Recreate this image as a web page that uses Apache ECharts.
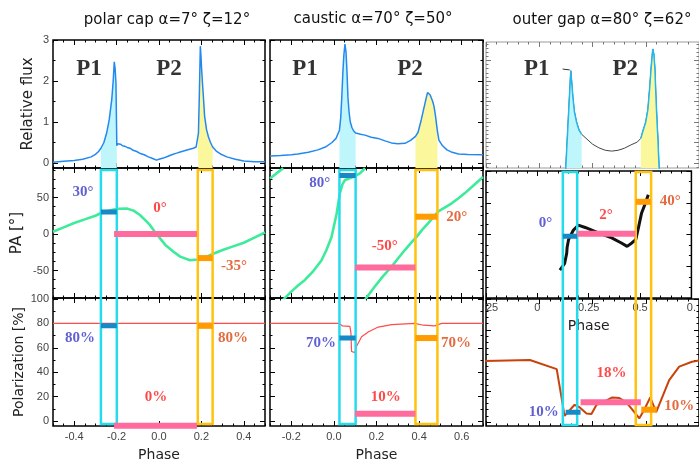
<!DOCTYPE html>
<html>
<head>
<meta charset="utf-8">
<script src="https://cdn.jsdelivr.net/npm/echarts@6.0.0/dist/echarts.min.js"></script>
<style>
html,body{margin:0;padding:0;background:#fff;}
#chart{width:699px;height:463px;}
</style>
</head>
<body>
<div id="chart"></div>
<script>
// ================= DATA =================
const panelTitles = ['polar cap α=7° ζ=12°', 'caustic α=70° ζ=50°', 'outer gap α=80° ζ=62°'];
const peakNames = ['P1', 'P2'];
const axisTitles = {flux: 'Relative flux', pa: 'PA [°]', pol: 'Polarization [%]', phase: 'Phase'};

// tick labels
const p1XTicks = [-0.4, -0.2, 0, 0.2, 0.4];
const p2XTicks = [-0.2, 0, 0.2, 0.4, 0.6];
const p3XTicks = [-0.25, 0, 0.25, 0.5, 0.75];
const p3XTickText = ['    25', '0', '0.25', '0.5', '0.'];
const fluxTicks = [0, 1, 2, 3];
const paTicks = [-50, 0, 50];
const polTicks = [0, 20, 40, 60, 80, 100];

// ---- polar cap ----
const p1Flux = [[-0.5,0.02],[-0.45,0.04],[-0.4,0.06],[-0.36,0.09],[-0.32,0.15],[-0.3,0.21],[-0.285,0.28],[-0.274,0.36],[-0.26,0.5],[-0.247,0.73],[-0.235,1.05],[-0.223,1.54],[-0.216,2.0],[-0.211,2.47],[-0.207,2.3],[-0.203,1.94],[-0.199,0.42],[-0.195,0.47],[-0.19,0.44],[-0.182,0.46],[-0.172,0.42],[-0.162,0.41],[-0.15,0.38],[-0.137,0.36],[-0.122,0.31],[-0.105,0.28],[-0.088,0.23],[-0.07,0.2],[-0.05,0.15],[-0.03,0.11],[-0.012,0.07],[0.0,0.09],[0.02,0.12],[0.04,0.16],[0.06,0.2],[0.083,0.24],[0.1,0.27],[0.12,0.3],[0.14,0.33],[0.162,0.36],[0.175,0.39],[0.183,0.42],[0.186,0.72],[0.19,1.6],[0.195,2.85],[0.198,2.6],[0.201,2.3],[0.205,1.95],[0.209,1.65],[0.215,1.15],[0.224,0.82],[0.233,0.64],[0.243,0.5],[0.253,0.39],[0.27,0.29],[0.29,0.22],[0.32,0.15],[0.36,0.09],[0.4,0.05],[0.45,0.03],[0.5,0.03]];
const p1Pa = [[-0.5,3],[-0.45,9],[-0.4,15],[-0.35,20],[-0.3,25],[-0.278,28],[-0.25,31],[-0.22,33],[-0.19,34.5],[-0.152,35],[-0.12,32],[-0.09,26],[-0.065,19],[-0.042,12],[-0.02,3],[0.005,-6],[0.03,-15],[0.067,-24],[0.1,-31],[0.146,-36],[0.18,-35],[0.21,-33],[0.256,-27],[0.3,-22],[0.35,-17],[0.4,-12],[0.45,-5],[0.5,2]];
const p1Pol = [[-0.5,80],[0.5,80]];
const p1Boxes = [[-0.274,-0.199],[0.183,0.253]];
const p1Fills = [[-0.274,-0.199],[0.183,0.253]];
const p1PaMarks = [[-0.274,-0.199,30],[-0.212,0.179,0],[0.183,0.253,-33]];
const p1PolMarks = [[-0.274,-0.199,78],[-0.212,0.179,-3.8],[0.183,0.253,78]];
const p1PaText = ['30°', '0°', '-35°'];
const p1PolText = ['80%', '0%', '80%'];

// ---- caustic ----
const p2Flux = [[-0.3,0.17],[-0.25,0.18],[-0.2,0.2],[-0.169,0.22],[-0.12,0.26],[-0.075,0.32],[-0.04,0.39],[-0.009,0.5],[0.01,0.6],[0.026,0.8],[0.032,1.1],[0.037,1.6],[0.042,2.2],[0.047,2.65],[0.052,2.9],[0.057,2.7],[0.062,2.15],[0.066,1.6],[0.071,1.25],[0.077,1.0],[0.085,0.86],[0.093,0.78],[0.102,0.73],[0.125,0.7],[0.146,0.68],[0.175,0.63],[0.207,0.6],[0.24,0.54],[0.27,0.49],[0.3,0.47],[0.334,0.48],[0.36,0.55],[0.383,0.65],[0.395,0.75],[0.41,1.05],[0.423,1.35],[0.434,1.6],[0.44,1.72],[0.446,1.74],[0.452,1.66],[0.458,1.64],[0.464,1.5],[0.47,1.38],[0.477,1.15],[0.483,0.9],[0.486,0.78],[0.493,0.56],[0.51,0.42],[0.531,0.32],[0.555,0.26],[0.585,0.22],[0.63,0.21],[0.7,0.2]];
const p2PaA = [[-0.3,76],[-0.27,83],[-0.238,90]];
const p2PaB = [[-0.238,-90],[-0.2,-79],[-0.17,-71],[-0.136,-63],[-0.1,-52],[-0.058,-36],[-0.035,-22],[-0.011,-4],[0.013,28],[0.028,56],[0.04,68],[0.052,74],[0.07,76],[0.091,78],[0.122,83],[0.146,90]];
const p2PaC = [[0.146,-90],[0.192,-72],[0.23,-58],[0.27,-45],[0.3,-34],[0.333,-22],[0.36,-13],[0.388,-4],[0.415,6],[0.443,15],[0.49,31],[0.52,36],[0.553,42],[0.585,49],[0.615,56],[0.65,65],[0.7,78]];
const p2Pol = [[-0.3,80],[0.025,80],[0.039,78],[0.075,77.5],[0.08,72],[0.083,57],[0.099,56],[0.106,61],[0.13,69],[0.161,73],[0.208,77],[0.271,79],[0.38,80],[0.42,78.5],[0.474,78],[0.506,80],[0.7,80]];
const p2Boxes = [[0.026,0.102],[0.383,0.486]];
const p2Fills = [[0.026,0.102],[0.383,0.486]];
const p2PaMarks = [[0.026,0.102,80],[0.099,0.383,-46],[0.383,0.486,23.7]];
const p2PolMarks = [[0.026,0.102,68],[0.099,0.383,6],[0.383,0.486,68]];
const p2PaText = ['80°', '-50°', '20°'];
const p2PolText = ['70%', '10%', '70%'];

// ---- outer gap ----
const p3FluxLead = [[0.11,2.29],[0.143,2.27]];
const p3Flux = [[0.124,-0.17],[0.148,2.25],[0.152,2.0],[0.158,1.6],[0.165,1.25],[0.175,1.0],[0.187,0.8],[0.199,0.7],[0.22,0.6],[0.25,0.46],[0.28,0.37],[0.31,0.31],[0.34,0.29],[0.37,0.31],[0.4,0.36],[0.43,0.44],[0.46,0.51],[0.477,0.6],[0.485,0.75],[0.5,1.0],[0.51,1.3],[0.518,1.8],[0.525,2.3],[0.533,2.78],[0.538,2.65],[0.543,2.3],[0.548,1.6],[0.553,1.0],[0.557,0.6],[0.563,-0.17]];
const p3Pa = [[0.11,-42],[0.133,-34],[0.143,-22],[0.145,-15],[0.152,-6],[0.175,5],[0.199,11],[0.236,8],[0.297,2],[0.362,-4],[0.409,-10],[0.437,-14],[0.46,-10],[0.479,-6],[0.493,9],[0.507,25],[0.526,37],[0.54,47]];
const p3Pol = [[-0.255,49.6],[-0.044,50.4],[0.082,43],[0.119,5],[0.128,5.7],[0.166,14],[0.189,12],[0.222,7],[0.245,6.5],[0.269,14],[0.297,16],[0.343,20],[0.376,19.5],[0.409,16],[0.437,10],[0.47,3],[0.493,10],[0.521,20],[0.549,8],[0.61,34],[0.657,45],[0.717,49],[0.75,50]];
const p3Boxes = [[0.124,0.194],[0.479,0.554]];
const p3Fills = [[0.124,0.199],[0.477,0.563]];
const p3PaMarks = [[0.124,0.194,-2],[0.194,0.477,1],[0.479,0.552,38.6]];
const p3PolMarks = [[0.124,0.194,8],[0.194,0.477,16],[0.479,0.552,10]];
const p3PaText = ['0°', '2°', '40°'];
const p3PolText = ['10%', '18%', '10%'];

// ================= LAYOUT / STYLE =================
const labelPos = {
  p1Pa: [[-0.358,57.5],[0.005,35.6],[0.354,-44]],
  p1Pol: [[-0.373,68.3],[-0.014,19.5],[0.349,68.3]],
  p2Pa: [[-0.066,70],[0.239,-16.4],[0.577,23.3]],
  p2Pol: [[-0.061,64.2],[0.244,19.5],[0.573,64.2]],
  p3Pa: [[0.04,13.6],[0.334,23],[0.647,39.6]],
  p3Pol: [[0.021,8.1],[0.339,39.8],[0.657,13]],
  p1Peak: [[-0.33,2.3],[0.047,2.3]],
  p2Peak: [[-0.136,2.3],[0.357,2.3]],
  p3Peak: [[-0.012,2.3],[0.404,2.3]]
};
const C = {
  flux: '#2389f0', green: '#3deb9a', red: '#ff4b4b', brown: '#c8420c',
  cyan: '#25dcec', yellow: '#ffc20e', cyanFill: '#bff6fb', yellowFill: '#fbf79c',
  markBlue: '#1689c6', markPink: '#ff6b9c', markOrange: '#ff9c00',
  txtBlue: '#3838c8', txtRed: '#ff1c1c', txtOrange: '#dc4612'
};
const markColors = [C.markBlue, C.markPink, C.markOrange];
const markWidths = [5, 6, 6];
const txtColors = [C.txtBlue, C.txtRed, C.txtOrange];
const FONT = 'Liberation Sans';

function range(a, b, s) { const r = []; for (let i = 0; a + i * s <= b + 1e-9; i++) r.push(+(a + i * s).toFixed(4)); return r; }

const grids = [], xAxes = [], yAxes = [], series = [];

function mkAxis(gi, pos, ext, ticks, len, color, lab, nameCfg) {
  const a = {
    type: 'value', gridIndex: gi, position: pos, min: ext[0], max: ext[1], silent: true,
    axisLine: {show: false, onZero: false}, splitLine: {show: false}, splitArea: {show: false},
    axisTick: {show: !!(ticks && ticks.length), inside: true, length: len, customValues: ticks || [], lineStyle: {color: color, width: 1}},
    axisLabel: {show: false}, axisPointer: {show: false}
  };
  if (lab) a.axisLabel = {show: true, customValues: lab.values, formatter: lab.fmt, color: '#444', fontSize: 11, fontFamily: FONT, margin: lab.margin || 4};
  if (nameCfg) Object.assign(a, nameCfg);
  return a;
}

function addGrid(o) {
  const gi = grids.length;
  grids.push({show: true, left: o.left, top: o.top, width: o.width, height: o.height,
    borderColor: o.frame || '#000', borderWidth: o.frameW || 1.5, backgroundColor: 'transparent'});
  const tc = o.tick || '#000';
  const xi = xAxes.length, yi = yAxes.length;
  xAxes.push(mkAxis(gi, 'bottom', o.x, o.xMajor, 5, tc, o.xLab, o.xName));
  xAxes.push(mkAxis(gi, 'bottom', o.x, o.xMinor, 2.5, tc));
  xAxes.push(mkAxis(gi, 'top', o.x, o.xMajor, 5, tc));
  xAxes.push(mkAxis(gi, 'top', o.x, o.xMinor, 2.5, tc));
  yAxes.push(mkAxis(gi, 'left', o.y, o.yMajor, 5, tc, o.yLab, o.yName));
  yAxes.push(mkAxis(gi, 'left', o.y, o.yMinor, 2.5, tc));
  yAxes.push(mkAxis(gi, 'right', o.y, o.yMajor, 5, tc));
  yAxes.push(mkAxis(gi, 'right', o.y, o.yMinor, 2.5, tc));
  return {xi, yi, ext: o.y};
}

function lineS(ax, data, color, width, z, extra) {
  return Object.assign({type: 'line', xAxisIndex: ax.xi, yAxisIndex: ax.yi, data: data, symbol: 'none', showSymbol: false,
    silent: true, animation: false, clip: true, z: z || 3, lineStyle: {color: color, width: width}}, extra || {});
}
function fillS(ax, data, color, edge) {
  return lineS(ax, data, edge || color, edge ? 1.5 : 0, edge ? 4 : 2, {areaStyle: {color: color, opacity: 1, origin: 'start'},
    lineStyle: {color: edge || color, width: edge ? 1.5 : 0, opacity: edge ? 1 : 0}});
}
function labelS(ax, pts, texts, colors, size, family) {
  return {type: 'scatter', xAxisIndex: ax.xi, yAxisIndex: ax.yi, silent: true, animation: false, symbolSize: 1,
    itemStyle: {color: 'rgba(0,0,0,0)'}, z: 9,
    data: pts.map((p, i) => ({value: p, name: texts[i], label: {color: colors[i]}})),
    label: {show: true, position: 'inside', formatter: '{b}', fontFamily: family || 'Liberation Serif', fontWeight: 'bold', fontSize: size}};
}
function marksS(ax, marks) {
  return marks.map((m, i) => lineS(ax, [[m[0], m[2]], [m[1], m[2]]], markColors[i], markWidths[i], 7, {lineStyle: {color: markColors[i], width: markWidths[i], cap: 'butt'}}));
}

const fmt1 = v => v.toFixed(1);
const fmtInt = v => String(v);
const nameY = (text, gap, size) => ({name: text, nameLocation: 'middle', nameGap: gap, nameRotate: 90,
  nameTextStyle: {fontFamily: 'DejaVu Sans', fontSize: size, color: '#222'}});
const nameX = (text, gap) => ({name: text, nameLocation: 'middle', nameGap: gap,
  nameTextStyle: {fontFamily: 'DejaVu Sans', fontSize: 14, color: '#222'}});

// scales of each row
const fluxExt = [-0.122, 3.0], paExt = [-87.7, 90.4], polExt = [-4.07, 100.8];
const f3Ext = [-0.122, 2.95], pa3Ext = [-75, 75], pol3Ext = [-3.25, 100];

const panels = [];
// ---- Panel 1 ----
{
  const x = [-0.5, 0.5], L = 53, W = 212;
  const xm = range(-0.5, 0.5, 0.05);
  const f = addGrid({left: L, top: 40, width: W, height: 128, x, y: fluxExt, xMajor: p1XTicks, xMinor: xm,
    yMajor: fluxTicks, yMinor: range(0.5, 2.5, 1), yLab: {values: fluxTicks, fmt: fmtInt}, yName: nameY(axisTitles.flux, 17, 15)});
  const p = addGrid({left: L, top: 168, width: W, height: 130, x, y: paExt, xMajor: p1XTicks, xMinor: xm,
    yMajor: paTicks, yMinor: range(-87.5, 87.5, 12.5), yLab: {values: paTicks, fmt: fmtInt}, yName: nameY(axisTitles.pa, 28, 15)});
  const q = addGrid({left: L, top: 298, width: W, height: 129, x, y: polExt, xMajor: p1XTicks, xMinor: xm,
    yMajor: polTicks, yMinor: range(10, 90, 20), yLab: {values: polTicks, fmt: fmtInt}, yName: nameY(axisTitles.pol, 27, 14),
    xLab: {values: p1XTicks, fmt: fmt1, margin: 5}, xName: nameX(axisTitles.phase, 22)});
  series.push(fillS(f, p1Flux.filter(d => d[0] >= p1Fills[0][0] && d[0] <= p1Fills[0][1]), C.cyanFill));
  series.push(fillS(f, p1Flux.filter(d => d[0] >= p1Fills[1][0] && d[0] <= p1Fills[1][1]), C.yellowFill));
  series.push(lineS(f, p1Flux, C.flux, 1.5, 3));
  series.push(lineS(p, p1Pa, C.green, 2.6, 3));
  series.push(lineS(q, p1Pol, C.red, 1.2, 3));
  series.push(...marksS(p, p1PaMarks), ...marksS(q, p1PolMarks));
  series.push(labelS(f, labelPos.p1Peak, peakNames, ['#000', '#000'], 23));
  series.push(labelS(p, labelPos.p1Pa, p1PaText, txtColors, 15));
  series.push(labelS(q, labelPos.p1Pol, p1PolText, txtColors, 15));
  panels.push({pa: p, pol: q, boxes: p1Boxes, padT: 2, padB: 2});
}
// ---- Panel 2 ----
{
  const x = [-0.3, 0.7], L = 270, W = 213;
  const xm = range(-0.3, 0.7, 0.05);
  const f = addGrid({left: L, top: 40, width: W, height: 128, x, y: fluxExt, xMajor: p2XTicks, xMinor: xm,
    yMajor: fluxTicks, yMinor: range(0.5, 2.5, 1)});
  const p = addGrid({left: L, top: 168, width: W, height: 130, x, y: paExt, xMajor: p2XTicks, xMinor: xm,
    yMajor: paTicks, yMinor: range(-87.5, 87.5, 12.5)});
  const q = addGrid({left: L, top: 298, width: W, height: 129, x, y: polExt, xMajor: p2XTicks, xMinor: xm,
    yMajor: polTicks, yMinor: range(10, 90, 20),
    xLab: {values: p2XTicks, fmt: fmt1, margin: 5}, xName: nameX(axisTitles.phase, 22)});
  series.push(fillS(f, p2Flux.filter(d => d[0] >= p2Fills[0][0] && d[0] <= p2Fills[0][1]), C.cyanFill));
  series.push(fillS(f, p2Flux.filter(d => d[0] >= p2Fills[1][0] && d[0] <= p2Fills[1][1]), C.yellowFill));
  series.push(lineS(f, p2Flux, C.flux, 1.5, 3));
  series.push(lineS(p, p2PaA, C.green, 2.6, 3), lineS(p, p2PaB, C.green, 2.6, 3), lineS(p, p2PaC, C.green, 2.6, 3));
  series.push(lineS(q, p2Pol, C.red, 1.2, 3));
  series.push(...marksS(p, p2PaMarks), ...marksS(q, p2PolMarks));
  series.push(labelS(f, labelPos.p2Peak, peakNames, ['#000', '#000'], 23));
  series.push(labelS(p, labelPos.p2Pa, p2PaText, txtColors, 15));
  series.push(labelS(q, labelPos.p2Pol, p2PolText, txtColors, 15));
  panels.push({pa: p, pol: q, boxes: p2Boxes, padT: 2, padB: 2});
}
// ---- Panel 3 ----
{
  const x = [-0.25, 0.75], L = 486, W = 214;
  const xm = range(-0.25, 0.75, 0.05);
  const f = addGrid({left: L, top: 42, width: W, height: 126, x, y: f3Ext, xMajor: p3XTicks, xMinor: xm,
    yMajor: range(0, 2.5, 0.5), yMinor: range(-0.1, 2.9, 0.1), frame: '#9a9a9a', frameW: 1, tick: '#777'});
  const p = addGrid({left: L, top: 171, width: W, height: 127, x, y: pa3Ext, xMajor: p3XTicks, xMinor: xm,
    yMajor: range(-75, 75, 37.5), yMinor: range(-75, 75, 12.5),
    xLab: {values: p3XTicks, fmt: v => { const i = p3XTicks.findIndex(t => Math.abs(t - v) < 1e-6); return i >= 0 ? p3XTickText[i] : ''; }, margin: 4},
    xName: nameX(axisTitles.phase, 21)});
  const q = addGrid({left: L, top: 299, width: W, height: 127, x, y: pol3Ext, xMajor: p3XTicks, xMinor: xm,
    yMajor: range(0, 100, 25), yMinor: range(0, 100, 5)});
  series.push(lineS(f, p3FluxLead, '#333', 1, 3));
  series.push(lineS(f, p3Flux, '#444', 1, 3));
  series.push(fillS(f, p3Flux.filter(d => d[0] >= p3Fills[0][0] && d[0] <= p3Fills[0][1]), C.cyanFill, '#22b6ee'));
  series.push(fillS(f, p3Flux.filter(d => d[0] >= p3Fills[1][0] && d[0] <= p3Fills[1][1]), C.yellowFill, '#22b6ee'));
  series.push(lineS(p, p3Pa, '#111', 3, 3));
  series.push(lineS(q, p3Pol, C.brown, 2, 3));
  series.push(...marksS(p, p3PaMarks), ...marksS(q, p3PolMarks));
  series.push(labelS(f, labelPos.p3Peak, peakNames, ['#000', '#000'], 23));
  series.push(labelS(p, labelPos.p3Pa, p3PaText, txtColors, 15));
  series.push(labelS(q, labelPos.p3Pol, p3PolText, txtColors, 15));
  panels.push({pa: p, pol: q, boxes: p3Boxes, padT: 1, padB: 1});
}

const chart = echarts.init(document.getElementById('chart'), null, {renderer: 'canvas', width: 699, height: 463});
chart.setOption({animation: false, grid: grids, xAxis: xAxes, yAxis: yAxes, series: series});

// boxes and titles
const gfx = [];
panels.forEach(pn => {
  pn.boxes.forEach((b, i) => {
    const x0 = chart.convertToPixel({xAxisIndex: pn.pa.xi}, b[0]);
    const x1 = chart.convertToPixel({xAxisIndex: pn.pa.xi}, b[1]);
    const y0 = chart.convertToPixel({yAxisIndex: pn.pa.yi}, pn.pa.ext[1]) + pn.padT;
    const y1 = chart.convertToPixel({yAxisIndex: pn.pol.yi}, pn.pol.ext[0]) - pn.padB;
    gfx.push({type: 'rect', z: 6, silent: true, shape: {x: x0, y: y0, width: x1 - x0, height: y1 - y0},
      style: {fill: 'none', stroke: i === 0 ? C.cyan : C.yellow, lineWidth: 2.5}});
  });
});
const titleCenters = [[167, 20], [373, 19], [602, 20]];
panelTitles.forEach((t, i) => {
  gfx.push({type: 'text', z: 10, silent: true, x: titleCenters[i][0], y: titleCenters[i][1],
    style: {text: t, font: '15px "DejaVu Sans"', fill: '#111', align: 'center', verticalAlign: 'middle'}});
});
chart.setOption({graphic: gfx});
</script>
</body>
</html>
